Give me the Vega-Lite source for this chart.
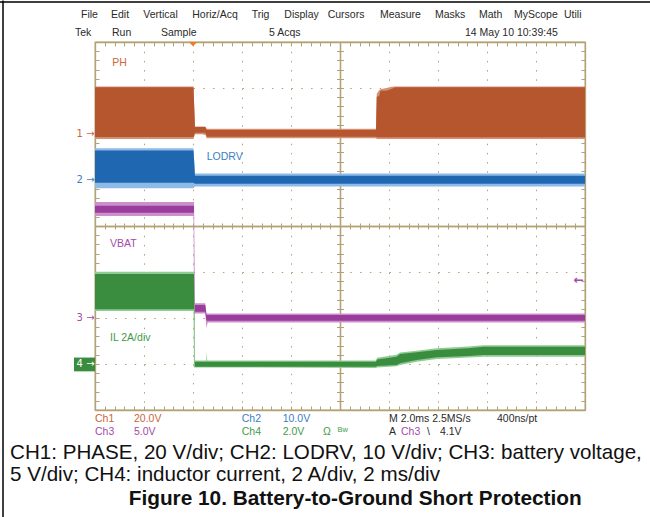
{
  "$schema": "https://vega.github.io/schema/vega-lite/v6.json",
  "width": 490,
  "height": 368,
  "autosize": {"type": "none"},
  "padding": {"left": 95, "top": 42, "right": 65, "bottom": 107},
  "background": "white",
  "config": {
    "view": {"stroke": "#b3a276", "strokeWidth": 1.3},
    "axis": {"labels": false, "grid": false, "domainColor": "#b3a276", "tickColor": "#b3a276", "gridColor": "#b3a276", "domainWidth": 1.3, "tickWidth": 1},
    "text": {"baseline": "middle", "align": "left"}
  },
  "resolve": {"scale": {"x": "independent", "y": "independent"}, "axis": {"x": "independent", "y": "independent"}},
  "datasets": {
    "tr": [
      {"ch": "PH", "t": -4, "lo": -1.3, "hi": 20.3, "loE": -2.2, "hiE": 20.7},
      {"ch": "PH", "t": 0.02, "lo": -1.3, "hi": 20.3, "loE": -2.2, "hiE": 20.7},
      {"ch": "PH", "t": 0.08, "lo": 0.5, "hi": 3.0, "loE": -0.1, "hiE": 3.3},
      {"ch": "PH", "t": 0.5, "lo": 0.5, "hi": 3.0, "loE": -0.1, "hiE": 3.3},
      {"ch": "PH", "t": 0.56, "lo": -1.2, "hi": 1.7, "loE": -1.8, "hiE": 2.3},
      {"ch": "PH", "t": 7.47, "lo": -1.2, "hi": 1.7, "loE": -1.8, "hiE": 2.3},
      {"ch": "PH", "t": 7.5, "lo": -1.4, "hi": 16.2, "loE": -2.2, "hiE": 17.5},
      {"ch": "PH", "t": 7.6, "lo": -1.4, "hi": 16.5, "loE": -2.2, "hiE": 19.0},
      {"ch": "PH", "t": 7.65, "lo": -1.4, "hi": 18.8, "loE": -2.2, "hiE": 19.5},
      {"ch": "PH", "t": 7.9, "lo": -1.4, "hi": 18.8, "loE": -2.2, "hiE": 20.0},
      {"ch": "PH", "t": 8.1, "lo": -1.4, "hi": 19.6, "loE": -2.2, "hiE": 20.5},
      {"ch": "PH", "t": 8.25, "lo": -1.4, "hi": 20.3, "loE": -2.2, "hiE": 20.7},
      {"ch": "PH", "t": 16, "lo": -1.4, "hi": 20.3, "loE": -2.2, "hiE": 20.7},
      {"ch": "LODRV", "t": -4, "lo": -0.6, "hi": 6.4, "loE": -1.8, "hiE": 6.9},
      {"ch": "LODRV", "t": 0.02, "lo": -0.6, "hi": 6.4, "loE": -1.8, "hiE": 6.9},
      {"ch": "LODRV", "t": 0.08, "lo": -0.8, "hi": 0.9, "loE": -1.4, "hiE": 1.4},
      {"ch": "LODRV", "t": 16, "lo": -0.8, "hi": 0.9, "loE": -1.4, "hiE": 1.4},
      {"ch": "VBAT", "t": -4, "lo": 11.45, "hi": 12.2, "loE": 11.1, "hiE": 12.6},
      {"ch": "VBAT", "t": 0.02, "lo": 11.45, "hi": 12.2, "loE": 11.1, "hiE": 12.6},
      {"ch": "VBAT", "t": 0.04, "lo": 11.45, "hi": 12.2, "loE": 0.5, "hiE": 12.6},
      {"ch": "VBAT", "t": 0.08, "lo": 0.68, "hi": 1.41, "loE": 0.5, "hiE": 1.6},
      {"ch": "VBAT", "t": 0.5, "lo": 0.68, "hi": 1.41, "loE": 0.5, "hiE": 1.6},
      {"ch": "VBAT", "t": 0.55, "lo": -0.29, "hi": 0.33, "loE": -1.1, "hiE": 0.5},
      {"ch": "VBAT", "t": 0.6, "lo": -0.29, "hi": 0.33, "loE": -0.5, "hiE": 0.5},
      {"ch": "VBAT", "t": 16, "lo": -0.29, "hi": 0.33, "loE": -0.5, "hiE": 0.5},
      {"ch": "IL", "t": -4, "lo": 2.38, "hi": 3.91, "loE": 2.3, "hiE": 4.01},
      {"ch": "IL", "t": 0.02, "lo": 2.38, "hi": 3.91, "loE": 2.3, "hiE": 4.01},
      {"ch": "IL", "t": 0.04, "lo": 2.38, "hi": 3.91, "loE": -0.15, "hiE": 4.01},
      {"ch": "IL", "t": 0.08, "lo": -0.12, "hi": 0.1, "loE": -0.15, "hiE": 0.15},
      {"ch": "IL", "t": 0.54, "lo": -0.12, "hi": 0.1, "loE": -0.15, "hiE": 0.15},
      {"ch": "IL", "t": 0.56, "lo": -0.12, "hi": 0.1, "loE": -0.15, "hiE": 0.53},
      {"ch": "IL", "t": 0.58, "lo": -0.12, "hi": 0.1, "loE": -0.15, "hiE": 0.15},
      {"ch": "IL", "t": 7.47, "lo": -0.12, "hi": 0.1, "loE": -0.17, "hiE": 0.15},
      {"ch": "IL", "t": 7.51, "lo": -0.09, "hi": 0.2, "loE": -0.15, "hiE": 0.27},
      {"ch": "IL", "t": 8.31, "lo": -0.04, "hi": 0.32, "loE": -0.1, "hiE": 0.4},
      {"ch": "IL", "t": 8.45, "lo": 0.03, "hi": 0.43, "loE": -0.04, "hiE": 0.5},
      {"ch": "IL", "t": 9.13, "lo": 0.17, "hi": 0.51, "loE": 0.1, "hiE": 0.58},
      {"ch": "IL", "t": 9.95, "lo": 0.29, "hi": 0.61, "loE": 0.22, "hiE": 0.68},
      {"ch": "IL", "t": 11.24, "lo": 0.35, "hi": 0.68, "loE": 0.28, "hiE": 0.76},
      {"ch": "IL", "t": 11.85, "lo": 0.39, "hi": 0.75, "loE": 0.32, "hiE": 0.82},
      {"ch": "IL", "t": 16, "lo": 0.39, "hi": 0.75, "loE": 0.32, "hiE": 0.82}
    ],
    "txt": [
      {"x": -4.571, "y": 4.587, "text": "File", "grp": "sys"},
      {"x": -3.347, "y": 4.587, "text": "Edit", "grp": "sys"},
      {"x": -2.029, "y": 4.587, "text": "Vertical", "grp": "sys"},
      {"x": -0.029, "y": 4.587, "text": "Horiz/Acq", "grp": "sys"},
      {"x": 2.396, "y": 4.587, "text": "Trig", "grp": "sys"},
      {"x": 3.727, "y": 4.587, "text": "Display", "grp": "sys"},
      {"x": 5.498, "y": 4.587, "text": "Cursors", "grp": "sys"},
      {"x": 7.633, "y": 4.587, "text": "Measure", "grp": "sys"},
      {"x": 9.878, "y": 4.587, "text": "Masks", "grp": "sys"},
      {"x": 11.673, "y": 4.587, "text": "Math", "grp": "sys"},
      {"x": 13.102, "y": 4.587, "text": "MyScope", "grp": "sys"},
      {"x": 15.143, "y": 4.587, "text": "Utili", "grp": "sys"},
      {"x": -4.816, "y": 4.196, "text": "Tek", "grp": "sys"},
      {"x": -3.306, "y": 4.196, "text": "Run", "grp": "sys"},
      {"x": -1.306, "y": 4.196, "text": "Sample", "grp": "sys"},
      {"x": 3.102, "y": 4.196, "text": "5 Acqs", "grp": "sys"},
      {"x": 11.102, "y": 4.196, "text": "14 May 10 10:39:45", "grp": "sys"},
      {"x": -4.0, "y": -4.2, "text": "Ch1", "grp": "PH"},
      {"x": -2.408, "y": -4.2, "text": "20.0V", "grp": "PH"},
      {"x": 1.988, "y": -4.2, "text": "Ch2", "grp": "LODRV"},
      {"x": 3.661, "y": -4.2, "text": "10.0V", "grp": "LODRV"},
      {"x": 8.0, "y": -4.2, "text": "M 2.0ms 2.5MS/s", "grp": "sys"},
      {"x": 12.408, "y": -4.2, "text": "400ns/pt", "grp": "sys"},
      {"x": -4.0, "y": -4.48, "text": "Ch3", "grp": "VBAT"},
      {"x": -2.408, "y": -4.48, "text": "5.0V", "grp": "VBAT"},
      {"x": 1.988, "y": -4.48, "text": "Ch4", "grp": "IL"},
      {"x": 3.661, "y": -4.48, "text": "2.0V", "grp": "IL"},
      {"x": 5.306, "y": -4.48, "text": "Ω", "grp": "IL"},
      {"x": 8.0, "y": -4.48, "text": "A", "grp": "sys"},
      {"x": 8.49, "y": -4.48, "text": "Ch3", "grp": "VBAT"},
      {"x": 9.551, "y": -4.48, "text": "\\", "grp": "sys"},
      {"x": 10.082, "y": -4.48, "text": "4.1V", "grp": "sys"},
      {"x": -3.294, "y": 3.537, "text": "PH", "grp": "PH"},
      {"x": 0.559, "y": 1.507, "text": "LODRV", "grp": "LODRV"},
      {"x": -3.388, "y": -0.398, "text": "VBAT", "grp": "VBAT"},
      {"x": -3.388, "y": -2.428, "text": "IL 2A/div", "grp": "IL"}
    ],
    "marks": [
      {"x": -4.02, "y": 2.0, "text": "1 →", "grp": "PH"},
      {"x": -4.02, "y": 1.0, "text": "2 →", "grp": "LODRV"},
      {"x": -4.02, "y": -2.0, "text": "3 →", "grp": "VBAT"},
      {"x": -4.02, "y": -3.0, "text": "4 →", "grp": "white"}
    ],
    "lvl": [{"x": 15.95, "y": -1.18, "text": "←"}],
    "bw": [{"x": 5.9, "y": -4.43, "text": "Bw"}],
    "cap": [
      {"x": -7.469, "y": -4.935, "text": "CH1: PHASE, 20 V/div; CH2: LODRV, 10 V/div; CH3: battery voltage,"},
      {"x": -7.469, "y": -5.413, "text": "5 V/div; CH4: inductor current, 2 A/div, 2 ms/div"}
    ],
    "ttl": [
      {"x": 6.62, "y": -5.935, "text": "Figure 10. Battery-to-Ground Short Protection"}
    ],
    "box": [{"x1": -4.857, "x2": -4.0, "y1": -2.86, "y2": -3.16}],
    "frame": [
      {"x1": -7.9, "x2": 18.7, "y1": 4.87, "y2": 4.87},
      {"x1": -7.755, "x2": -7.755, "y1": 4.9, "y2": -6.4}
    ],
    "trig": [{"t": 0, "y": 3.955}]
  },
  "layer": [
    {
      "data": {"name": "tr"},
      "transform": [{"filter": "datum.ch === 'PH'"}],
      "mark": {"type": "area", "color": "#d49274"},
      "encoding": {
        "x": {"field": "t", "type": "quantitative", "scale": {"domain": [-4, 16], "nice": false, "zero": false},
          "axis": {"values": [-4, -2, 0, 2, 4, 6, 8, 10, 12, 14, 16], "grid": true, "gridDash": [1.5, 7.7], "domain": false, "ticks": false, "title": null}},
        "y": {"field": "hiE", "type": "quantitative", "scale": {"domain": [-120, 40], "nice": false, "zero": false},
          "axis": {"values": [-120, -100, -80, -60, -40, -20, 0, 20, 40], "grid": true, "gridDash": [1.5, 8.3], "domain": false, "ticks": false, "title": null}},
        "y2": {"field": "loE"}
      }
    },
    {
      "data": {"name": "tr"},
      "transform": [{"filter": "datum.ch === 'PH'"}],
      "mark": {"type": "area", "color": "#b5562f"},
      "encoding": {
        "x": {"field": "t", "type": "quantitative", "scale": {"domain": [-4, 16], "nice": false, "zero": false},
          "axis": {"orient": "bottom", "values": [-4,-3.6,-3.2,-2.8,-2.4,-2,-1.6,-1.2,-0.8,-0.4,0,0.4,0.8,1.2,1.6,2,2.4,2.8,3.2,3.6,4,4.4,4.8,5.2,5.6,6,6.4,6.8,7.2,7.6,8,8.4,8.8,9.2,9.6,10,10.4,10.8,11.2,11.6,12,12.4,12.8,13.2,13.6,14,14.4,14.8,15.2,15.6,16], "tickSize": -4, "title": null}},
        "y": {"field": "hi", "type": "quantitative", "scale": {"domain": [-120, 40], "nice": false, "zero": false},
          "axis": {"orient": "left", "values": [-120,-116,-112,-108,-104,-100,-96,-92,-88,-84,-80,-76,-72,-68,-64,-60,-56,-52,-48,-44,-40,-36,-32,-28,-24,-20,-16,-12,-8,-4,0,4,8,12,16,20,24,28,32,36,40], "tickSize": -4, "title": null}},
        "y2": {"field": "lo"}
      }
    },
    {
      "data": {"name": "tr"},
      "transform": [{"filter": "datum.ch === 'LODRV'"}],
      "mark": {"type": "area", "color": "#8dbae6"},
      "encoding": {
        "x": {"field": "t", "type": "quantitative", "scale": {"domain": [-4, 16], "nice": false, "zero": false}, "axis": null},
        "y": {"field": "hiE", "type": "quantitative", "scale": {"domain": [-50, 30], "nice": false, "zero": false}, "axis": null},
        "y2": {"field": "loE"}
      }
    },
    {
      "data": {"name": "tr"},
      "transform": [{"filter": "datum.ch === 'LODRV'"}],
      "mark": {"type": "area", "color": "#2067b2"},
      "encoding": {
        "x": {"field": "t", "type": "quantitative", "scale": {"domain": [-4, 16], "nice": false, "zero": false},
          "axis": {"orient": "top", "values": [-4,-3.6,-3.2,-2.8,-2.4,-2,-1.6,-1.2,-0.8,-0.4,0,0.4,0.8,1.2,1.6,2,2.4,2.8,3.2,3.6,4,4.4,4.8,5.2,5.6,6,6.4,6.8,7.2,7.6,8,8.4,8.8,9.2,9.6,10,10.4,10.8,11.2,11.6,12,12.4,12.8,13.2,13.6,14,14.4,14.8,15.2,15.6,16], "tickSize": -4, "title": null}},
        "y": {"field": "hi", "type": "quantitative", "scale": {"domain": [-50, 30], "nice": false, "zero": false},
          "axis": {"orient": "left", "offset": -245, "values": [-50,-48,-46,-44,-42,-40,-38,-36,-34,-32,-30,-28,-26,-24,-22,-20,-18,-16,-14,-12,-10,-8,-6,-4,-2,0,2,4,6,8,10,12,14,16,18,20,22,24,26,28,30], "tickSize": 3.5, "title": null}},
        "y2": {"field": "lo"}
      }
    },
    {
      "data": {"name": "tr"},
      "transform": [{"filter": "datum.ch === 'VBAT'"}],
      "mark": {"type": "area", "color": "#cc8fce"},
      "encoding": {
        "x": {"field": "t", "type": "quantitative", "scale": {"domain": [-4, 16], "nice": false, "zero": false}, "axis": null},
        "y": {"field": "hiE", "type": "quantitative", "scale": {"domain": [-10, 30], "nice": false, "zero": false}, "axis": null},
        "y2": {"field": "loE"}
      }
    },
    {
      "data": {"name": "tr"},
      "transform": [{"filter": "datum.ch === 'VBAT'"}],
      "mark": {"type": "area", "color": "#9a3d9a"},
      "encoding": {
        "x": {"field": "t", "type": "quantitative", "scale": {"domain": [-4, 16], "nice": false, "zero": false},
          "axis": {"orient": "bottom", "offset": -184, "values": [-4,-3.6,-3.2,-2.8,-2.4,-2,-1.6,-1.2,-0.8,-0.4,0,0.4,0.8,1.2,1.6,2,2.4,2.8,3.2,3.6,4,4.4,4.8,5.2,5.6,6,6.4,6.8,7.2,7.6,8,8.4,8.8,9.2,9.6,10,10.4,10.8,11.2,11.6,12,12.4,12.8,13.2,13.6,14,14.4,14.8,15.2,15.6,16], "tickSize": 3, "title": null}},
        "y": {"field": "hi", "type": "quantitative", "scale": {"domain": [-10, 30], "nice": false, "zero": false},
          "axis": {"orient": "right", "offset": -245, "values": [-10,-9,-8,-7,-6,-5,-4,-3,-2,-1,0,1,2,3,4,5,6,7,8,9,10,11,12,13,14,15,16,17,18,19,20,21,22,23,24,25,26,27,28,29,30], "tickSize": 3.5, "title": null}},
        "y2": {"field": "lo"}
      }
    },
    {
      "data": {"name": "tr"},
      "transform": [{"filter": "datum.ch === 'IL'"}],
      "mark": {"type": "area", "color": "#8fcb93"},
      "encoding": {
        "x": {"field": "t", "type": "quantitative", "scale": {"domain": [-4, 16], "nice": false, "zero": false}, "axis": null},
        "y": {"field": "hiE", "type": "quantitative", "scale": {"domain": [-2, 14], "nice": false, "zero": false}, "axis": null},
        "y2": {"field": "loE"}
      }
    },
    {
      "data": {"name": "tr"},
      "transform": [{"filter": "datum.ch === 'IL'"}],
      "mark": {"type": "area", "color": "#3a8d3e"},
      "encoding": {
        "x": {"field": "t", "type": "quantitative", "scale": {"domain": [-4, 16], "nice": false, "zero": false},
          "axis": {"orient": "top", "offset": -184, "values": [-4,-3.6,-3.2,-2.8,-2.4,-2,-1.6,-1.2,-0.8,-0.4,0,0.4,0.8,1.2,1.6,2,2.4,2.8,3.2,3.6,4,4.4,4.8,5.2,5.6,6,6.4,6.8,7.2,7.6,8,8.4,8.8,9.2,9.6,10,10.4,10.8,11.2,11.6,12,12.4,12.8,13.2,13.6,14,14.4,14.8,15.2,15.6,16], "tickSize": 3, "title": null}},
        "y": {"field": "hi", "type": "quantitative", "scale": {"domain": [-2, 14], "nice": false, "zero": false},
          "axis": {"orient": "right", "values": [-2,-1.6,-1.2,-0.8,-0.4,0,0.4,0.8,1.2,1.6,2,2.4,2.8,3.2,3.6,4,4.4,4.8,5.2,5.6,6,6.4,6.8,7.2,7.6,8,8.4,8.8,9.2,9.6,10,10.4,10.8,11.2,11.6,12,12.4,12.8,13.2,13.6,14], "tickSize": -4, "title": null}},
        "y2": {"field": "lo"}
      }
    },
    {
      "data": {"name": "box"},
      "mark": {"type": "rect", "color": "#3a8d3e"},
      "encoding": {
        "x": {"field": "x1", "type": "quantitative", "scale": {"domain": [-4, 16], "nice": false, "zero": false}, "axis": null},
        "x2": {"field": "x2"},
        "y": {"field": "y1", "type": "quantitative", "scale": {"domain": [-4, 4], "nice": false, "zero": false}, "axis": null},
        "y2": {"field": "y2"}
      }
    },
    {
      "data": {"name": "txt"},
      "mark": {"type": "text", "font": "Liberation Sans", "fontSize": 10.5},
      "encoding": {
        "x": {"field": "x", "type": "quantitative", "scale": {"domain": [-4, 16], "nice": false, "zero": false}, "axis": null},
        "y": {"field": "y", "type": "quantitative", "scale": {"domain": [-4, 4], "nice": false, "zero": false}, "axis": null},
        "text": {"field": "text"},
        "color": {"field": "grp", "type": "nominal", "legend": null,
          "scale": {"domain": ["sys", "PH", "LODRV", "VBAT", "IL", "white"], "range": ["#2a2a2a", "#c8663e", "#3a7ec6", "#a54aa8", "#3f9b4a", "#ffffff"]}}
      }
    },
    {
      "data": {"name": "marks"},
      "mark": {"type": "text", "font": "DejaVu Sans", "fontSize": 10, "align": "right"},
      "encoding": {
        "x": {"field": "x", "type": "quantitative", "scale": {"domain": [-4, 16], "nice": false, "zero": false}, "axis": null},
        "y": {"field": "y", "type": "quantitative", "scale": {"domain": [-4, 4], "nice": false, "zero": false}, "axis": null},
        "text": {"field": "text"},
        "color": {"field": "grp", "type": "nominal", "legend": null,
          "scale": {"domain": ["sys", "PH", "LODRV", "VBAT", "IL", "white"], "range": ["#2a2a2a", "#c8663e", "#3a7ec6", "#a54aa8", "#3f9b4a", "#ffffff"]}}
      }
    },
    {
      "data": {"name": "lvl"},
      "mark": {"type": "text", "font": "DejaVu Sans", "fontSize": 12, "fontWeight": "bold", "align": "right", "color": "#a54aa8"},
      "encoding": {
        "x": {"field": "x", "type": "quantitative", "scale": {"domain": [-4, 16], "nice": false, "zero": false}, "axis": null},
        "y": {"field": "y", "type": "quantitative", "scale": {"domain": [-4, 4], "nice": false, "zero": false}, "axis": null},
        "text": {"field": "text"}
      }
    },
    {
      "data": {"name": "bw"},
      "mark": {"type": "text", "font": "Liberation Sans", "fontSize": 7.5, "color": "#3f9b4a"},
      "encoding": {
        "x": {"field": "x", "type": "quantitative", "scale": {"domain": [-4, 16], "nice": false, "zero": false}, "axis": null},
        "y": {"field": "y", "type": "quantitative", "scale": {"domain": [-4, 4], "nice": false, "zero": false}, "axis": null},
        "text": {"field": "text"}
      }
    },
    {
      "data": {"name": "cap"},
      "mark": {"type": "text", "font": "Liberation Sans", "fontSize": 20.6, "color": "#111111"},
      "encoding": {
        "x": {"field": "x", "type": "quantitative", "scale": {"domain": [-4, 16], "nice": false, "zero": false}, "axis": null},
        "y": {"field": "y", "type": "quantitative", "scale": {"domain": [-4, 4], "nice": false, "zero": false}, "axis": null},
        "text": {"field": "text"}
      }
    },
    {
      "data": {"name": "ttl"},
      "mark": {"type": "text", "font": "Liberation Sans", "fontSize": 20.8, "fontWeight": "bold", "align": "center", "color": "#111111"},
      "encoding": {
        "x": {"field": "x", "type": "quantitative", "scale": {"domain": [-4, 16], "nice": false, "zero": false}, "axis": null},
        "y": {"field": "y", "type": "quantitative", "scale": {"domain": [-4, 4], "nice": false, "zero": false}, "axis": null},
        "text": {"field": "text"}
      }
    },
    {
      "data": {"name": "frame"},
      "mark": {"type": "rule", "color": "#000000", "strokeWidth": 1.5},
      "encoding": {
        "x": {"field": "x1", "type": "quantitative", "scale": {"domain": [-4, 16], "nice": false, "zero": false}, "axis": null},
        "x2": {"field": "x2"},
        "y": {"field": "y1", "type": "quantitative", "scale": {"domain": [-4, 4], "nice": false, "zero": false}, "axis": null},
        "y2": {"field": "y2"}
      }
    },
    {
      "data": {"name": "trig"},
      "mark": {"type": "point", "shape": "M-1,-0.5L1,-0.5L0,0.5Z", "size": 70, "filled": true, "color": "#f07a2a", "opacity": 1},
      "encoding": {
        "x": {"field": "t", "type": "quantitative", "scale": {"domain": [-4, 16], "nice": false, "zero": false}, "axis": null},
        "y": {"field": "y", "type": "quantitative", "scale": {"domain": [-4, 4], "nice": false, "zero": false}, "axis": null}
      }
    }
  ]
}
